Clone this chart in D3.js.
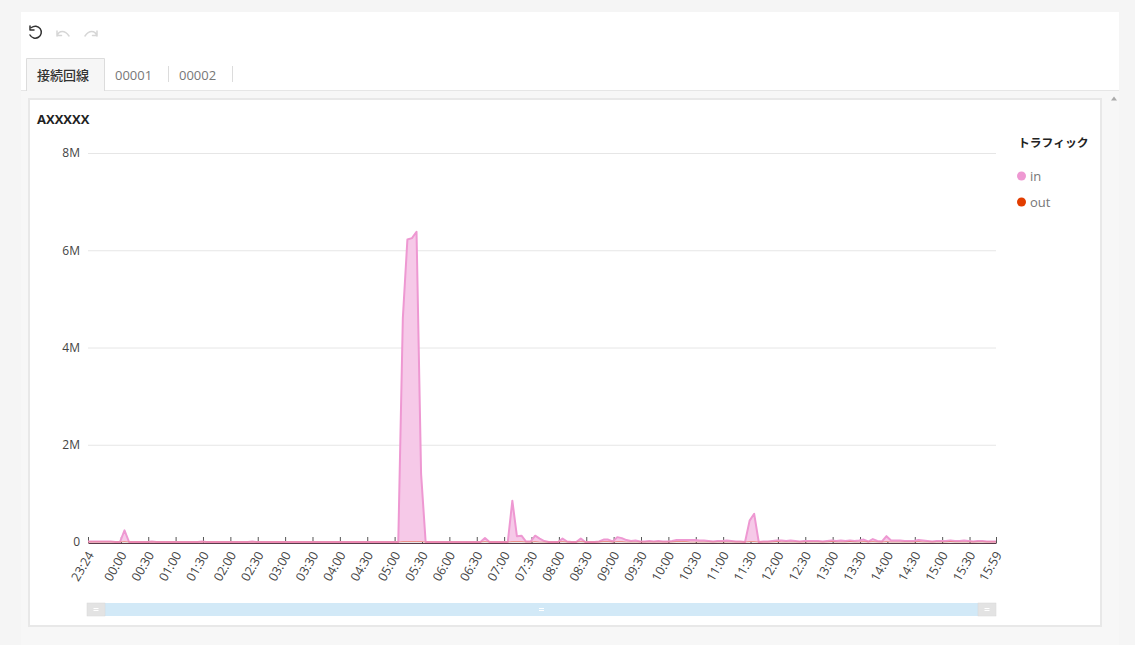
<!DOCTYPE html>
<html lang="ja">
<head>
<meta charset="utf-8">
<title>AXXXXX</title>
<script src="https://cdn.jsdelivr.net/npm/d3@7"></script>
<style>
html, body { margin: 0; padding: 0; background: #f5f5f5; overflow: hidden; }
svg { display: block; }
svg text { font-family: "Open Sans", "Noto Sans CJK JP", sans-serif; }
</style>
</head>
<body>
<div id="chart"></div>
<script>
// in / out traffic in Mbps, one sample every 5 minutes from 23:24
const inValues = [
    .01, .01, .01, .01, .01, .01, 0, 0, .24, 0, 0, 0, 0, 0, .01, 0, 0, 0, 0, 0,
    0, 0, 0, 0, 0, .01, 0, 0, 0, 0, 0, 0, 0, 0, 0, 0, .01, 0, 0, 0,
    0, 0, 0, 0, 0, 0, 0, 0, 0, 0, 0, 0, 0, 0, 0, 0, 0, 0, 0, 0,
    0, 0, 0, 0, 0, 0, 0, 0, 0, 4.6, 6.22, 6.25, 6.38, 1.4, 0, 0, 0, 0, 0, 0,
    0, 0, 0, 0, 0, 0, 0, .08, 0, 0, 0, 0, 0, .85, .12, .13, .01, .01, .13, .07,
    .02, 0, 0, 0, .07, .01, 0, 0, .07, 0, 0, 0, .01, .05, .05, .01, .1, .08, .04, .02,
    .03, .01, .01, .02, .01, .02, .01, .01, .02, .04, .04, .04, .04, .04, .03, .03, .02, .01, .02, .02,
    .03, .02, .01, .01, 0, .44, .58, 0, .01, .01, .02, .03, .03, .02, .03, .02, .01, .02, .02, .02,
    .02, .01, .02, .03, .02, .03, .02, .03, .02, .03, .05, .01, .06, .02, .01, .12, .03, .03, .03, .02,
    .02, .02, .04, .03, .02, .01, .02, .02, .02, .03, .02, .02, .03, .02, .01, .02, .02, .01, .01, .01
];
const outValues = [
    0, 0, 0, 0, 0, 0, 0, 0, .01, 0, 0, 0, 0, 0, 0, 0, 0, 0, 0, 0,
    0, 0, 0, 0, 0, 0, 0, 0, 0, 0, 0, 0, 0, 0, 0, 0, 0, 0, 0, 0,
    0, 0, 0, 0, 0, 0, 0, 0, 0, 0, 0, 0, 0, 0, 0, 0, 0, 0, 0, 0,
    0, 0, 0, 0, 0, 0, 0, 0, 0, .01, .01, .01, .01, .01, 0, 0, 0, 0, 0, 0,
    0, 0, 0, 0, 0, 0, 0, .01, 0, 0, 0, 0, 0, .01, .01, .01, 0, 0, .01, 0,
    0, 0, 0, 0, .01, 0, 0, 0, .01, 0, 0, 0, 0, .01, .01, 0, .01, .01, 0, 0,
    0, 0, 0, 0, 0, 0, 0, 0, 0, .01, .01, .01, 0, 0, 0, 0, 0, 0, 0, 0,
    0, 0, 0, 0, 0, .01, .01, 0, 0, 0, 0, .01, 0, 0, 0, 0, 0, 0, 0, 0,
    0, 0, 0, .01, 0, 0, 0, .01, 0, 0, .01, 0, .01, 0, 0, .01, 0, 0, 0, 0,
    0, 0, .01, 0, 0, 0, 0, 0, 0, .01, 0, 0, 0, 0, 0, 0, 0, 0, 0, 0
];
const xTickLabels = ["23:24", "00:00", "00:30", "01:00", "01:30", "02:00", "02:30", "03:00", "03:30", "04:00",
    "04:30", "05:00", "05:30", "06:00", "06:30", "07:00", "07:30", "08:00", "08:30", "09:00", "09:30", "10:00",
    "10:30", "11:00", "11:30", "12:00", "12:30", "13:00", "13:30", "14:00", "14:30", "15:00", "15:30", "15:59"];
const yTicks = [0, 2, 4, 6, 8];
const tabLabels = ["接続回線", "00001", "00002"];
const legendLabels = ["in", "out"];
const legendColors = ["#ee98d2", "#e23d00"];

// labels after midnight belong to the next day
const toDate = (label) => {
    const [h, m] = label.split(":").map(Number);
    return new Date(2020, 0, h === 23 ? 1 : 2, h, m);
};
const startTime = toDate(xTickLabels[0]);
const sampleTime = (i) => new Date(startTime.getTime() + i * 5 * 60000);

const width = 1135;
const height = 645;
const margin = { top: 153, right: 139, bottom: 103, left: 88 };

const svg = d3.select("#chart")
    .append("svg")
    .attr("width", width)
    .attr("height", height);

// page frame
svg.append("rect").attr("x", 21).attr("y", 12).attr("width", 1098).attr("height", 79).attr("fill", "#fff");
svg.append("rect").attr("x", 21).attr("y", 90).attr("width", 1098).attr("height", 1).attr("fill", "#e6e6e6");
svg.append("rect").attr("x", 21).attr("y", 91).attr("width", 1098).attr("height", 554).attr("fill", "#f7f7f7");

// toolbar icons
const toolbar = svg.append("g").attr("fill", "none").attr("stroke-linecap", "round").attr("stroke-linejoin", "round");
toolbar.append("path")
    .attr("d", "M31.5 27.5 A6 6 0 1 1 30 35 M30 26 V30 H34")
    .attr("stroke", "#333").attr("stroke-width", 1.5);
toolbar.append("path")
    .attr("d", "M57 36 C59 30 65 30 69 36 M57 31 V35.5 H61.5")
    .attr("stroke", "#d6d6d6").attr("stroke-width", 1.5);
toolbar.append("path")
    .attr("d", "M97 36 C95 30 89 30 85 36 M97 31 V35.5 H92.5")
    .attr("stroke", "#d6d6d6").attr("stroke-width", 1.5);

// tabs
svg.append("path")
    .attr("d", "M26.5 91 V58.5 H104.5 V91")
    .attr("fill", "#f6f6f6").attr("stroke", "#dcdcdc");
const tabX = [37, 115, 179];
svg.selectAll(".tab")
    .data(tabLabels)
    .join("text")
    .attr("class", "tab")
    .attr("x", (d, i) => tabX[i])
    .attr("y", 80)
    .attr("font-size", 13)
    .attr("font-weight", (d, i) => i === 0 ? 500 : 400)
    .attr("fill", (d, i) => i === 0 ? "#333" : "#777")
    .text(d => d);
svg.selectAll(".tab-sep")
    .data([168.5, 232.5])
    .join("line")
    .attr("class", "tab-sep")
    .attr("x1", d => d).attr("x2", d => d)
    .attr("y1", 66).attr("y2", 82)
    .attr("stroke", "#dcdcdc");

// scroll arrow
svg.append("path").attr("d", "M1111 100.5 L1114 96.5 L1117 100.5 Z").attr("fill", "#aaa");

// card
svg.append("rect")
    .attr("x", 29).attr("y", 99)
    .attr("width", 1072).attr("height", 527)
    .attr("fill", "#fff")
    .attr("stroke", "#e8e8e8").attr("stroke-width", 2);

svg.append("text")
    .attr("x", 37).attr("y", 124)
    .attr("font-size", 13).attr("font-weight", 700).attr("fill", "#222")
    .text("AXXXXX");

// scales
const x = d3.scaleTime()
    .domain([startTime, toDate("15:59")])
    .range([margin.left, width - margin.right]);
const y = d3.scaleLinear()
    .domain([0, 8])
    .range([height - margin.bottom, margin.top]);

// y axis with grid lines
const yAxis = svg.append("g")
    .attr("transform", `translate(${margin.left},0)`)
    .call(d3.axisLeft(y).tickValues(yTicks).tickSize(-(width - margin.left - margin.right)).tickPadding(8)
        .tickFormat(d => d === 0 ? "0" : d + "M"));
yAxis.select(".domain").remove();
yAxis.selectAll("line").attr("stroke", "#e6e6e6");
yAxis.selectAll("text").attr("font-size", 12).attr("fill", "#444");

// x axis, ticks point up into the plot
const xAxis = svg.append("g")
    .attr("transform", `translate(0,${y(0) + 1})`)
    .call(d3.axisBottom(x).tickValues(xTickLabels.map(toDate)).tickSizeInner(-6).tickSizeOuter(0)
        .tickFormat(d3.timeFormat("%H:%M")));
xAxis.select(".domain").attr("stroke", "#5a3b4a");
xAxis.selectAll("line").attr("stroke", "#555");
xAxis.selectAll("text")
    .attr("font-size", 12.5)
    .attr("fill", "#444")
    .attr("text-anchor", "end")
    .attr("x", 0)
    .attr("y", 0)
    .attr("dy", "0.35em")
    .attr("transform", "translate(2,9.5) rotate(-60)");

// series
const area = (values) => d3.area()
    .x((d, i) => x(sampleTime(i)))
    .y0(y(0))
    .y1(d => y(d))(values);
const line = (values) => d3.line()
    .x((d, i) => x(sampleTime(i)))
    .y(d => y(d))(values);

svg.append("path").attr("d", area(inValues)).attr("fill", "#f6c9e8");
svg.append("path").attr("d", line(inValues))
    .attr("fill", "none").attr("stroke", legendColors[0]).attr("stroke-width", 2).attr("stroke-linejoin", "round");
svg.append("path").attr("d", area(outValues)).attr("fill", legendColors[1]).attr("opacity", 0.3);
svg.append("path").attr("d", line(outValues))
    .attr("fill", "none").attr("stroke", legendColors[1]).attr("stroke-width", 0.5).attr("opacity", 0.6);

// legend
svg.append("text")
    .attr("x", 1018).attr("y", 147)
    .attr("font-size", 11.8).attr("font-weight", 700).attr("fill", "#222")
    .text("トラフィック");
const legend = svg.selectAll(".legend-item")
    .data(legendLabels)
    .join("g")
    .attr("class", "legend-item")
    .attr("transform", (d, i) => `translate(1021.5,${176 + i * 26})`);
legend.append("circle").attr("r", 4.5).attr("fill", (d, i) => legendColors[i]);
legend.append("text")
    .attr("x", 8.5).attr("y", 5)
    .attr("font-size", 13).attr("fill", "#777")
    .text(d => d);

// zoom slider
const slider = svg.append("g").attr("transform", "translate(0,603)");
slider.append("rect").attr("x", 87).attr("width", 909).attr("height", 13).attr("fill", "#d2e9f7");
slider.selectAll(".handle")
    .data([87, 978])
    .join("rect")
    .attr("class", "handle")
    .attr("x", d => d)
    .attr("width", 18).attr("height", 13)
    .attr("fill", "#e3e3e3").attr("stroke", "#d8d8d8").attr("stroke-width", 0.5);
slider.selectAll(".grip")
    .data([96, 541.5, 987])
    .join("path")
    .attr("class", "grip")
    .attr("d", d => `M${d - 2.5} 5.5 H${d + 2.5} M${d - 2.5} 7.5 H${d + 2.5}`)
    .attr("stroke", "#fff");
</script>
</body>
</html>
